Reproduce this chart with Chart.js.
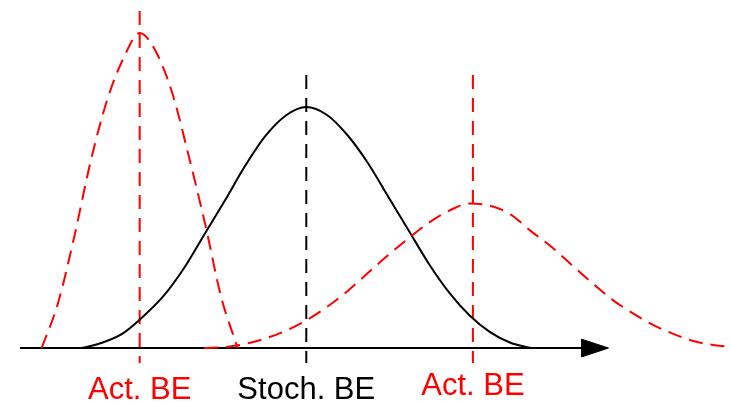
<!DOCTYPE html>
<html>
<head>
<meta charset="utf-8">
<style>
  html, body { margin: 0; padding: 0; background: #fff; }
  #wrap { width: 731px; height: 403px; position: relative; }
</style>
<script src="https://cdn.jsdelivr.net/npm/chart.js@4.4.1/dist/chart.umd.min.js"></script>
</head>
<body>
<div id="wrap"><canvas id="chart"></canvas></div>
<script>
// break-even positions on the cost axis (sigma units, stochastic BE at 0)
const stochBE = 0;
const actBELow = -2.04;
const actBEHigh = 2.04;

// stochastic distribution (solid black)
const stochX = [-2.75, -2.5, -2.25, -2.0, -1.75, -1.5, -1.25, -1.0, -0.75, -0.5, -0.25, 0, 0.25, 0.5, 0.75, 1.0, 1.25, 1.5, 1.75, 2.0, 2.25, 2.5, 2.75];
const stochY = [0, 0.022, 0.06, 0.13, 0.215, 0.33, 0.47, 0.61, 0.755, 0.88, 0.965, 1.0, 0.968, 0.885, 0.77, 0.63, 0.49, 0.35, 0.23, 0.135, 0.066, 0.022, 0];

// narrow actual distribution, left (red dashed)
const actLowX = [-3.24, -3.04, -2.84, -2.64, -2.44, -2.24, -2.04, -1.84, -1.64, -1.44, -1.24, -1.04, -0.84];
const actLowY = [0, 0.186, 0.463, 0.775, 1.027, 1.201, 1.307, 1.229, 1.057, 0.798, 0.517, 0.209, 0];

// wide actual distribution, right (red dashed)
const actHighX = [-1.25, -1.0, -0.75, -0.5, -0.25, 0, 0.25, 0.5, 0.75, 1.0, 1.25, 1.5, 1.75, 2.0, 2.25, 2.5, 2.75, 3.0, 3.25, 3.5, 3.75, 4.0, 4.25, 4.5, 4.75, 5.0, 5.25];
const actHighY = [0, 0.004, 0.017, 0.04, 0.072, 0.115, 0.17, 0.235, 0.31, 0.385, 0.455, 0.52, 0.57, 0.60, 0.59, 0.555, 0.485, 0.42, 0.345, 0.27, 0.2, 0.144, 0.095, 0.058, 0.028, 0.012, 0.004];

// horizontal axis with arrow head
const axisStart = -3.505;
const axisEnd = 3.39;
const arrowTip = 3.70;
const arrowHalf = 0.037;

// vertical marker extents
const markerBottom = -0.062;
const markerTopLow = 1.398;
const markerTop = 1.133;

// labels under the axis
const labelText = ['Act. BE', 'Stoch. BE', 'Act. BE'];
const labelX = [actBELow, stochBE, actBEHigh];
const labelY = [-0.212, -0.212, -0.196];
const labelColor = ['#ff0000', '#000000', '#ff0000'];

const RED = '#ff0000';
const BLACK = '#000000';

const pts = (xs, ys) => xs.map((x, i) => ({ x, y: ys[i] }));

const curve = (data, color, dash) => ({
    data, showLine: true, borderColor: color, borderWidth: 2,
    borderDash: dash, pointRadius: 0, cubicInterpolationMode: 'monotone', fill: false
});

const vline = (x, top, color) => ({
    data: [{ x, y: top }, { x, y: markerBottom }], showLine: true,
    borderColor: color, borderWidth: 2, borderDash: [14, 9], pointRadius: 0, tension: 0, fill: false
});

const belowLabels = {
    id: 'belowLabels',
    afterDatasetsDraw(chart) {
        const { ctx, scales: { x, y } } = chart;
        ctx.save();
        ctx.font = '31px "Liberation Sans", Arial, sans-serif';
        ctx.textAlign = 'center';
        ctx.textBaseline = 'alphabetic';
        labelText.forEach((t, i) => {
            ctx.fillStyle = labelColor[i];
            ctx.fillText(t, x.getPixelForValue(labelX[i]), y.getPixelForValue(labelY[i]));
        });
        ctx.restore();
    }
};

new Chart(document.getElementById('chart'), {
    type: 'scatter',
    data: {
        datasets: [
            curve(pts(actLowX, actLowY), RED, [14, 8]),
            curve(pts(actHighX, actHighY), RED, [14, 8]),
            curve(pts(stochX, stochY), BLACK, []),
            vline(actBELow, markerTopLow, RED),
            vline(stochBE, markerTop, BLACK),
            vline(actBEHigh, markerTop, RED),
            {
                data: [{ x: axisStart, y: 0 }, { x: axisEnd, y: 0 }], showLine: true,
                borderColor: BLACK, borderWidth: 2, pointRadius: 0, fill: false
            },
            {
                data: [{ x: axisEnd - 0.02, y: arrowHalf }, { x: arrowTip, y: 0 }, { x: axisEnd - 0.02, y: -arrowHalf }, { x: axisEnd - 0.02, y: arrowHalf }],
                showLine: true, borderColor: BLACK, borderWidth: 1, backgroundColor: BLACK,
                pointRadius: 0, tension: 0, fill: 'shape'
            }
        ]
    },
    options: {
        responsive: true,
        maintainAspectRatio: false,
        animation: false,
        layout: { padding: 0 },
        plugins: { legend: { display: false }, tooltip: { enabled: false } },
        scales: {
            x: { type: 'linear', min: -3.75, max: 5.2, display: false },
            y: { type: 'linear', min: -0.228, max: 1.444, display: false }
        }
    },
    plugins: [belowLabels]
});
</script>
</body>
</html>
